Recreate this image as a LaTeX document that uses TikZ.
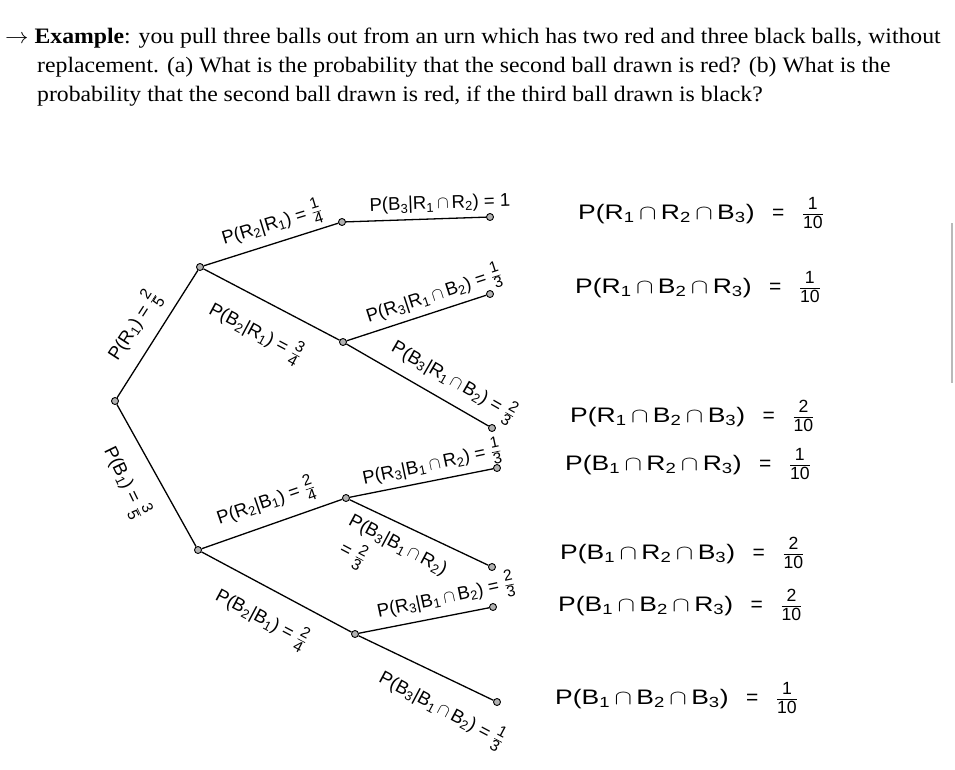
\documentclass[tikz,border=0pt]{standalone}
\usepackage{fontspec}
\setmainfont{Liberation Serif}
\setsansfont{Liberation Sans}
\usepackage{amsmath}
\usepackage{graphicx}
\newcommand{\sbs}[1]{\textsubscript{#1}}
\newcommand{\fr}[2]{\ensuremath{\genfrac{}{}{0.6pt}{1}{\textsf{\raisebox{1.5pt}{\scalebox{1.2}{#1}}}}{\textsf{\raisebox{-1.5pt}{\scalebox{1.2}{#2}}}}}}
\newcommand{\ca}{\,\ensuremath{\cap}\,}
\newcommand{\wide}[1]{\scalebox{1.26}[1]{#1}}
\newcommand{\tline}[1]{\scalebox{1.13}[1.05]{#1}}
\tikzset{
  branch/.style={line width=1.3pt, black},
  dot/.style={circle, draw=black, fill=gray!60, line width=0.9pt, inner sep=0pt, minimum size=7pt},
  blab/.style={font=\sffamily\fontsize{18.5}{22}\selectfont, inner sep=0pt},
  res/.style={font=\sffamily\fontsize{21}{24}\selectfont, anchor=west, inner sep=0pt},
  title/.style={font=\fontsize{21}{25}\selectfont, anchor=base west, inner sep=0pt}
}
\begin{document}
\begin{tikzpicture}[x=1pt,y=-1pt]
\useasboundingbox (0,0) rectangle (955,769);
% title
\node[title] (t1) at (5,43) {\tline{$\rightarrow$ \textbf{Example}: you pull three balls out from an urn which has two red and three black balls, without}};
\node[title] (t2) at (37,72) {\tline{replacement. (a) What is the probability that the second ball drawn is red? (b) What is the}};
\node[title] (t3) at (37,101) {\tline{probability that the second ball drawn is red, if the third ball drawn is black?}};
% scroll bar line
\draw[gray!55, line width=2pt] (952,223) -- (952,383);
% tree nodes
\node[dot] (root) at (115,401) {};
\node[dot] (r1) at (200,267) {};
\node[dot] (b1) at (198,550) {};
\node[dot] (r1r2) at (342,222) {};
\node[dot] (r1b2) at (343,342) {};
\node[dot] (b1r2) at (346,498) {};
\node[dot] (b1b2) at (355,634) {};
\node[dot] (l1) at (490,217) {};
\node[dot] (l2) at (490,294) {};
\node[dot] (l3) at (492,428) {};
\node[dot] (l4) at (497,468) {};
\node[dot] (l5) at (492,567) {};
\node[dot] (l6) at (493,607) {};
\node[dot] (l7) at (497,702) {};
% branches
\draw[branch] (root) -- (r1);
\draw[branch] (root) -- (b1);
\draw[branch] (r1) -- (r1r2);
\draw[branch] (r1) -- (r1b2);
\draw[branch] (b1) -- (b1r2);
\draw[branch] (b1) -- (b1b2);
\draw[branch] (r1r2) -- (l1);
\draw[branch] (r1b2) -- (l2);
\draw[branch] (r1b2) -- (l3);
\draw[branch] (b1r2) -- (l4);
\draw[branch] (b1r2) -- (l5);
\draw[branch] (b1b2) -- (l6);
\draw[branch] (b1b2) -- (l7);
% branch labels
\node[blab, rotate=57] (a1) at (134,326) {P(R\sbs{1}) = \fr{2}{5}};
\node[blab, rotate=-64] (a2) at (126,482) {P(B\sbs{1}) = \fr{3}{5}};
\node[blab, rotate=17] (a3) at (272,224) {P(R\sbs{2}|R\sbs{1}) = \fr{1}{4}};
\node[blab, rotate=-28] (a4) at (256,332) {P(B\sbs{2}|R\sbs{1}) = \fr{3}{4}};
\node[blab, rotate=2] (a5) at (440,204) {P(B\sbs{3}|R\sbs{1}\ca R\sbs{2}) = 1};
\node[blab, rotate=18] (a6) at (434,295) {P(R\sbs{3}|R\sbs{1}\ca B\sbs{2}) = \fr{1}{3}};
\node[blab, rotate=-30] (a7) at (454,381) {P(B\sbs{3}|R\sbs{1}\ca B\sbs{2}) = \fr{2}{3}};
\node[blab, rotate=12] (a8) at (432,464) {P(R\sbs{3}|B\sbs{1}\ca R\sbs{2}) = \fr{1}{3}};
\node[blab, rotate=-28, align=left] (a9) at (390,560) {P(B\sbs{3}|B\sbs{1}\ca R\sbs{2})\\[5pt] \ = \fr{2}{3}};
\node[blab, rotate=19] (a10) at (266,502) {P(R\sbs{2}|B\sbs{1}) = \fr{2}{4}};
\node[blab, rotate=-28] (a11) at (262,618) {P(B\sbs{2}|B\sbs{1}) = \fr{2}{4}};
\node[blab, rotate=12] (a12) at (446,597) {P(R\sbs{3}|B\sbs{1}\ca B\sbs{2}) = \fr{2}{3}};
\node[blab, rotate=-28] (a13) at (442,709) {P(B\sbs{3}|B\sbs{1}\ca B\sbs{2}) = \fr{1}{3}};
% results
\node[res] (s1) at (578,213) {\wide{P(R\sbs{1}\ca R\sbs{2}\ca B\sbs{3})} \;\;=\;\; \fr{1}{10}};
\node[res] (s2) at (575,287) {\wide{P(R\sbs{1}\ca B\sbs{2}\ca R\sbs{3})} \;\;=\;\; \fr{1}{10}};
\node[res] (s3) at (570,416) {\wide{P(R\sbs{1}\ca B\sbs{2}\ca B\sbs{3})} \;\;=\;\; \fr{2}{10}};
\node[res] (s4) at (565,464) {\wide{P(B\sbs{1}\ca R\sbs{2}\ca R\sbs{3})} \;\;=\;\; \fr{1}{10}};
\node[res] (s5) at (560,553) {\wide{P(B\sbs{1}\ca R\sbs{2}\ca B\sbs{3})} \;\;=\;\; \fr{2}{10}};
\node[res] (s6) at (558,605) {\wide{P(B\sbs{1}\ca B\sbs{2}\ca R\sbs{3})} \;\;=\;\; \fr{2}{10}};
\node[res] (s7) at (555,698) {\wide{P(B\sbs{1}\ca B\sbs{2}\ca B\sbs{3})} \;\;=\;\; \fr{1}{10}};
\end{tikzpicture}
\end{document}
